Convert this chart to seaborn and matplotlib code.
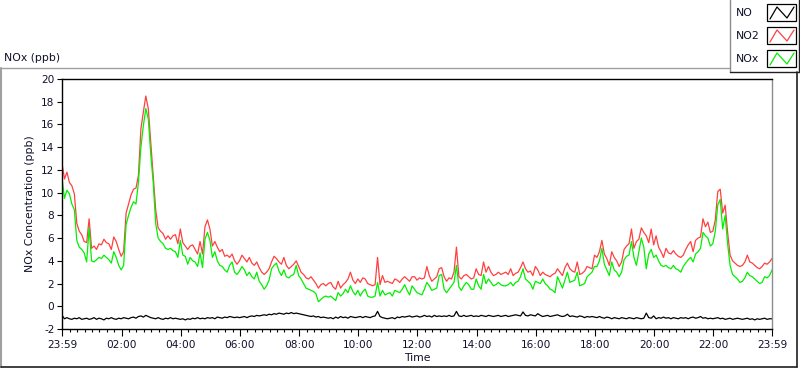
import numpy as np
import pandas as pd
import matplotlib
matplotlib.use("Agg")
import matplotlib.pyplot as plt
import seaborn as sns
from matplotlib.lines import Line2D
from matplotlib.patches import Rectangle

# ---------------- data (5-minute readings, minutes since 23:59) ----------------
minutes = list(range(0, 1441, 5))

no2 = [
    12.6, 11.2, 11.8, 10.9, 10.6, 9.9, 7.3, 6.6, 6.3, 5.7, 5.6, 7.7,
    5.1, 5.3, 5.0, 5.5, 5.4, 5.9, 5.6, 5.5, 5.0, 6.1, 5.7, 5.0,
    4.4, 4.8, 8.2, 9.0, 9.8, 10.3, 10.4, 11.5, 15.6, 17.1, 18.5, 17.4,
    14.4, 11.5, 8.5, 6.9, 6.6, 6.4, 5.9, 6.2, 5.9, 6.2, 6.3, 5.5,
    6.8, 5.6, 5.3, 5.0, 5.3, 5.4, 5.0, 4.6, 5.7, 4.6, 7.0, 7.6,
    6.8, 5.3, 5.7, 5.2, 4.8, 5.0, 4.4, 4.5, 4.3, 4.6, 4.0, 3.7,
    4.0, 4.5, 4.2, 3.9, 4.3, 3.8, 3.6, 3.9, 3.4, 3.0, 2.8, 3.0,
    3.3, 3.9, 4.4, 4.2, 3.9, 3.7, 4.3, 3.6, 3.3, 3.5, 3.7, 4.0,
    3.5, 3.0, 2.8, 2.5, 2.4, 2.6, 2.3, 2.0, 1.6, 1.9, 2.0, 1.8,
    2.0, 2.1, 1.7, 1.5, 2.2, 1.6, 1.9, 2.1, 2.4, 3.0, 2.3, 2.0,
    2.4, 2.1, 2.5, 2.4, 2.0, 1.9, 1.8, 1.9, 4.3, 1.9, 2.7, 2.1,
    2.2, 2.1, 2.0, 2.4, 2.3, 2.1, 2.4, 2.6, 2.4, 2.2, 2.6, 2.6,
    2.3, 2.5, 2.4, 2.5, 3.5, 2.7, 2.2, 2.4, 2.6, 3.3, 3.4, 2.6,
    2.2, 2.5, 2.4, 3.0, 5.2, 2.6, 2.4, 2.7, 2.8, 2.6, 2.4, 2.5,
    3.3, 2.8, 2.7, 3.9, 3.0, 3.5, 3.0, 2.7, 2.8, 3.0, 2.8, 2.9,
    3.0, 2.8, 3.3, 2.7, 2.9, 3.0, 3.4, 3.9, 3.3, 3.0, 3.1, 2.7,
    3.5, 3.2, 2.7, 3.0, 2.8, 2.7, 2.6, 2.8, 2.9, 3.3, 3.0, 2.7,
    3.4, 3.8, 3.3, 3.1, 3.0, 3.9, 2.8, 2.9, 3.1, 3.5, 3.4, 3.3,
    4.5, 4.3, 4.8, 5.8, 4.6, 4.2, 3.6, 4.8, 4.3, 4.0, 3.5, 3.9,
    5.0, 5.3, 5.5, 6.8, 5.1, 5.7, 5.9, 6.9, 6.5, 6.2, 5.6, 6.8,
    5.4, 6.2, 5.2, 4.8, 4.3, 5.1, 4.7, 4.6, 4.9, 4.6, 4.4, 4.3,
    4.5, 5.0, 5.4, 5.7, 4.8, 5.8, 6.0, 6.1, 7.7, 7.0, 7.4, 6.5,
    6.6, 7.6, 10.1, 10.3, 8.2, 8.9, 6.5, 4.5, 4.0, 3.8, 3.6, 3.5,
    3.6, 3.9, 4.5, 3.9, 3.8, 3.6, 3.4, 3.3, 3.5, 3.8, 3.7, 3.9, 4.2,
]

nox = [
    11.3, 9.5, 10.2, 9.9, 9.0, 8.5, 5.8, 5.2, 5.0, 4.7, 3.9, 6.9,
    4.0, 3.9, 4.1, 4.3, 4.2, 4.5, 4.3, 4.1, 3.8, 4.8, 4.3, 3.6,
    3.2, 3.6, 7.2, 8.0, 8.7, 9.2, 9.0, 10.9, 14.0, 15.9, 17.4, 16.5,
    13.4, 10.9, 7.3, 6.0, 5.7, 5.5, 5.1, 5.0, 5.1, 4.9, 4.8, 4.3,
    5.8, 4.5, 4.4, 3.7, 4.3, 4.0, 3.9, 3.5, 4.7, 3.4, 5.9, 6.5,
    5.8, 4.3, 4.8, 4.0, 3.6, 3.5, 3.2, 3.0, 3.6, 3.9, 3.0, 2.8,
    3.1, 3.5, 3.2, 2.7, 3.0, 2.6, 2.4, 3.0, 2.2, 1.9, 1.5, 1.8,
    2.3, 3.3, 3.6, 3.8, 3.1, 2.7, 3.2, 2.6, 2.5, 2.7, 2.8, 3.6,
    2.7, 2.4, 2.0, 1.6, 1.5, 1.4, 1.3, 1.1, 0.4, 0.6, 0.8, 0.9,
    0.8, 0.9, 0.7, 0.5, 1.2, 0.9, 1.1, 1.5, 1.2, 1.8, 1.3, 1.0,
    1.4, 0.9, 1.3, 1.5, 0.9, 0.8, 0.8, 0.9, 2.1, 0.9, 1.4, 1.0,
    1.1, 1.2, 0.9, 1.4, 1.3, 1.2, 1.5, 1.9, 1.4, 1.0, 1.8, 1.5,
    1.2, 1.1, 1.0, 1.5, 2.1, 1.8, 1.4, 1.5, 1.6, 2.7, 2.8, 1.5,
    1.2, 1.5, 1.8, 2.1, 3.6, 1.7, 1.4, 1.8, 2.1, 1.9, 1.5, 1.5,
    2.4, 1.8, 1.5, 2.8, 2.0, 2.4, 2.1, 1.8, 1.9, 2.1, 1.9, 1.8,
    1.8, 1.9, 2.1, 1.8, 2.1, 2.2, 2.6, 3.3, 2.4, 2.2, 2.0, 1.5,
    2.2, 2.1, 2.0, 2.4, 2.0, 1.8, 1.5, 1.4, 1.2, 2.6, 2.1, 1.6,
    2.3, 3.0, 2.1, 2.2, 2.3, 3.0, 1.8, 1.9, 2.0, 2.6, 2.8, 3.0,
    3.5, 3.5, 4.0, 5.1, 3.7, 3.2, 2.7, 3.9, 3.2, 3.0, 2.6, 3.0,
    4.1, 4.4, 4.5, 5.7, 4.3, 3.6, 4.8, 6.0, 5.2, 3.3, 4.6, 5.0,
    4.3, 4.5, 4.0, 3.6, 3.5, 3.6, 3.4, 3.3, 3.6, 3.3, 3.2, 3.0,
    3.5, 3.8, 4.1, 4.3, 3.9, 4.6, 4.8, 5.1, 6.5, 6.2, 6.0, 5.3,
    5.5, 6.6, 8.9, 9.4, 6.8, 8.0, 5.5, 3.6, 2.8, 2.6, 2.4, 2.1,
    2.2, 2.5, 3.0, 2.7, 2.6, 2.4, 2.2, 2.0, 2.1, 2.6, 2.5, 2.7, 3.2,
]

no = [
    -0.8, -1.1, -1.0, -1.1, -1.15, -1.05, -1.1, -1.0, -1.15, -1.1, -1.05, -1.15,
    -1.1, -1.0, -1.15, -1.05, -1.1, -1.2, -1.05, -1.1, -1.0, -1.1, -1.15, -1.05,
    -1.1, -1.0, -1.05, -1.1, -1.0, -0.95, -1.05, -0.9, -0.85, -0.95, -0.8, -0.9,
    -1.0, -1.05, -1.1, -1.0, -1.1, -1.15, -1.05, -1.1, -1.0, -1.1, -1.05, -1.1,
    -1.15, -1.1, -1.2, -1.1, -1.15, -1.05, -1.1, -1.0, -1.1, -1.05, -1.1, -1.0,
    -1.05, -1.0, -1.1, -0.95, -1.0, -1.05, -0.95, -1.0, -0.9, -0.95, -1.0, -0.95,
    -1.0, -0.95, -0.9, -1.0, -0.9, -0.85, -0.9, -0.8, -0.85, -0.8, -0.75, -0.8,
    -0.7, -0.75, -0.65, -0.7, -0.6, -0.65, -0.7, -0.6, -0.65, -0.55, -0.65, -0.6,
    -0.65, -0.7, -0.75, -0.8, -0.85, -0.9, -0.85, -0.95, -0.9, -1.0, -0.95, -1.0,
    -1.05, -1.0, -1.1, -0.95, -1.05, -0.9, -1.0, -0.95, -1.05, -0.9, -0.95, -1.0,
    -0.95, -0.9, -1.0, -0.9, -0.95, -1.0, -0.9, -0.85, -0.45, -0.9, -1.0, -1.05,
    -1.1, -1.05, -1.0, -1.1, -0.95, -1.0, -0.9, -0.95, -0.9, -0.85, -0.95, -0.9,
    -0.85, -0.95, -0.9, -0.8, -0.9, -0.85, -0.95, -0.8, -0.9, -0.85, -0.9, -0.85,
    -0.9, -0.8, -0.9, -0.85, -0.45, -0.85, -0.9, -0.8, -0.9, -0.85, -0.8, -0.9,
    -0.85, -0.9, -0.8, -0.85, -0.9, -0.8, -0.85, -0.9, -0.85, -0.8, -0.9, -0.85,
    -0.8, -0.9, -0.85, -0.8, -0.75, -0.8, -0.85, -0.5, -0.8, -0.85, -0.75, -0.8,
    -0.85, -0.65, -0.8, -0.9, -0.85, -0.8, -0.9, -0.85, -0.8, -0.75, -0.85, -0.9,
    -0.85, -0.7, -0.9, -0.85, -0.9, -0.95, -0.85, -0.9, -1.0, -0.9, -0.95, -0.9,
    -0.95, -1.0, -0.9, -1.0, -1.05, -0.95, -1.0, -1.1, -1.0, -1.05, -1.1, -1.0,
    -1.05, -1.1, -1.0, -1.05, -1.1, -1.0, -1.05, -1.1, -1.05, -0.6, -1.0, -1.05,
    -0.85, -1.1, -1.0, -1.05, -0.95, -1.05, -1.0, -1.1, -1.0, -1.05, -1.1, -1.0,
    -1.05, -1.0, -1.1, -1.0, -0.95, -1.05, -1.0, -0.9, -1.05, -1.0, -1.1, -1.05,
    -1.1, -1.05, -1.0, -1.1, -1.05, -1.15, -1.1, -1.05, -1.15, -1.1, -1.05, -1.1,
    -1.15, -1.1, -1.05, -1.15, -1.1, -1.2, -1.1, -1.15, -1.1, -1.05, -1.15, -1.1, -1.1,
]

series_names = ["NO", "NO2", "NOx"]
series_colors = ["#000000", "#FF4040", "#00F000"]
tick_minutes = [0, 121, 241, 361, 481, 601, 721, 841, 961, 1081, 1201, 1321, 1440]
tick_labels = ["23:59", "02:00", "04:00", "06:00", "08:00", "10:00", "12:00",
               "14:00", "16:00", "18:00", "20:00", "22:00", "23:59"]
y_ticks = list(range(-2, 21, 2))

df = pd.DataFrame({"Time": minutes, "NO": no, "NO2": no2, "NOx": nox})

# ---------------- figure ----------------
sns.set_theme(style="white")
plt.rcParams["font.family"] = ["DejaVu Sans"]
W, H = 800, 369
fig = plt.figure(figsize=(W / 100, H / 100), dpi=100)
fig.patch.set_facecolor("white")

def fx(px):
    return px / W

def fy(py):
    return 1 - py / H

ax_l, ax_r, ax_t, ax_b = 62, 772, 79, 329
ax = fig.add_axes([fx(ax_l), fy(ax_b), (ax_r - ax_l) / W, (ax_b - ax_t) / H])
ax.set_facecolor("white")

for name, col in zip(series_names, series_colors):
    sns.lineplot(data=df, x="Time", y=name, ax=ax, color=col, lw=0.9,
                 legend=False, estimator=None)

ax.set_xlim(0, 1440)
ax.set_ylim(-2, 20)
ax.set_xticks(tick_minutes)
ax.set_xticklabels(tick_labels)
minor = [m for m in range(16, 1440, 15) if all(abs(m - t) > 3 for t in tick_minutes)]
ax.set_xticks(minor, minor=True)
ax.set_yticks(y_ticks)
ax.set_yticklabels([str(v) for v in y_ticks])

ax.tick_params(axis="x", which="major", direction="out", length=5, width=0.8,
               color="black", labelsize=7.6, pad=3, bottom=True)
ax.tick_params(axis="x", which="minor", direction="out", length=2.5, width=0.8,
               color="black", bottom=True)
ax.tick_params(axis="y", which="major", direction="out", length=3.5, width=0.8,
               color="black", labelsize=7.6, pad=2, left=True)
for lab in ax.get_xticklabels() + ax.get_yticklabels():
    lab.set_color("#10102a")

for side in ["left", "bottom", "top"]:
    ax.spines[side].set_color("black")
    ax.spines[side].set_linewidth(1.0)
ax.spines["right"].set_color("#8c8c8c")
ax.spines["right"].set_linewidth(1.0)

ax.set_xlabel("Time", fontsize=7.8, color="#10102a", labelpad=2)
ax.set_ylabel("NOx Concentration (ppb)", fontsize=7.8, color="#10102a", labelpad=4)

# ---------------- outer frame ----------------
frame_top, frame_bot, frame_left, frame_right = 68, 367, 1, 797
fig.add_artist(Line2D([fx(frame_left), fx(730)], [fy(frame_top)] * 2,
                      transform=fig.transFigure, color="#a0a0a0", lw=1.0))
fig.add_artist(Line2D([fx(frame_left)] * 2, [fy(frame_top), fy(frame_bot)],
                      transform=fig.transFigure, color="#a0a0a0", lw=1.5))
fig.add_artist(Line2D([fx(frame_left), fx(frame_right)], [fy(frame_bot)] * 2,
                      transform=fig.transFigure, color="#202020", lw=1.2))
fig.add_artist(Line2D([fx(frame_right)] * 2, [fy(72), fy(frame_bot)],
                      transform=fig.transFigure, color="#202020", lw=1.2))

fig.text(fx(4), fy(58), "NOx (ppb)", fontsize=7.8, color="#10102a",
         ha="left", va="center")

# ---------------- legend box ----------------
lg_l, lg_r, lg_t, lg_b = 730, 799, 0, 72
fig.add_artist(Rectangle((fx(lg_l), fy(lg_b)), (lg_r - lg_l) / W, (lg_b - lg_t) / H,
                         transform=fig.transFigure, facecolor="white",
                         edgecolor="none"))
fig.add_artist(Line2D([fx(lg_l)] * 2, [fy(lg_t), fy(lg_b)], transform=fig.transFigure,
                      color="#8c8c8c", lw=1.0))
fig.add_artist(Line2D([fx(lg_l), fx(lg_r)], [fy(lg_b)] * 2, transform=fig.transFigure,
                      color="#202020", lw=1.0))
fig.add_artist(Line2D([fx(lg_r)] * 2, [fy(lg_t), fy(lg_b)], transform=fig.transFigure,
                      color="#202020", lw=1.0))

entry_centers = [13, 36, 59]
for name, col, cy in zip(series_names, series_colors, entry_centers):
    fig.text(fx(736), fy(cy), name, fontsize=7.8, color="#10102a",
             ha="left", va="center")
    bx0, bx1, by0, by1 = 767, 796, cy - 9, cy + 8
    fig.add_artist(Rectangle((fx(bx0), fy(by1)), (bx1 - bx0) / W, (by1 - by0) / H,
                             transform=fig.transFigure, facecolor="white",
                             edgecolor="black", lw=0.9))
    zx = [bx0 + 3, bx0 + 10, bx0 + 20, bx0 + 27]
    zy = [by1 - 2, by0 + 3, by1 - 3, by0 + 3]
    fig.add_artist(Line2D([fx(v) for v in zx], [fy(v) for v in zy],
                          transform=fig.transFigure, color=col, lw=0.9))

fig.savefig("out.png", dpi=100, facecolor="white")
